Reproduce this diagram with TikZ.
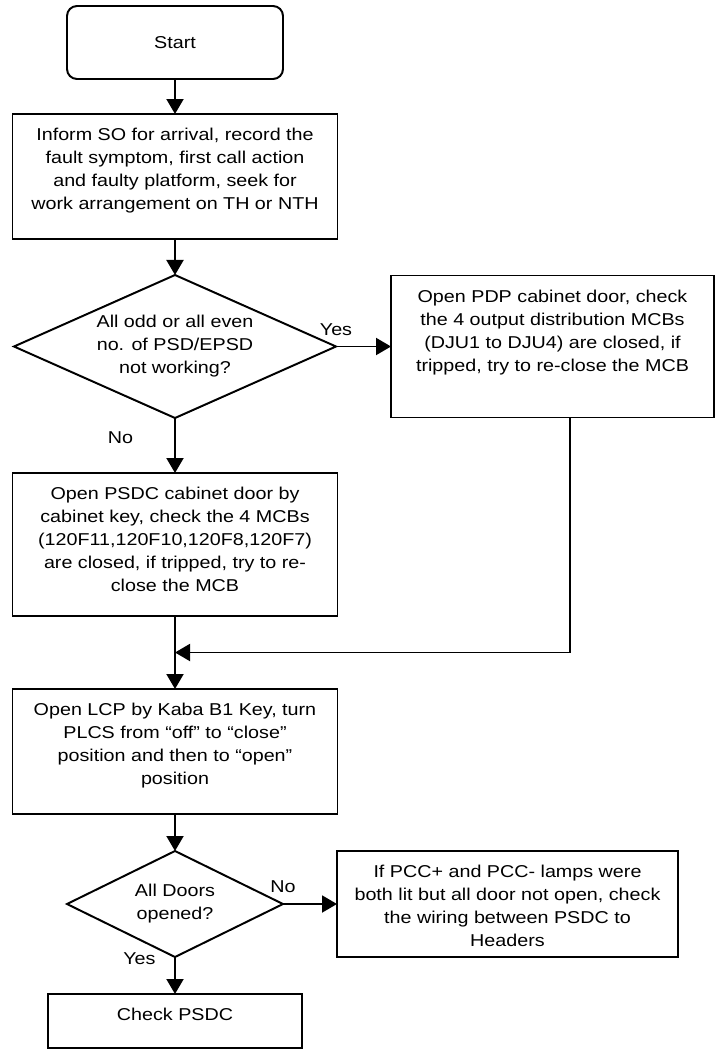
\documentclass[tikz,border=0pt]{standalone}
\usepackage{fontspec}
\setmainfont{Liberation Sans}[FakeStretch=1.15]
\usepackage{tikz}
\usetikzlibrary{positioning, arrows.meta, calc, shapes.geometric}
\newcommand{\toptext}[2]{\vbox to #1{\hbox{\begin{tabular}{@{}c@{}}#2\end{tabular}}\vfil}}
\tikzset{
  base/.style={draw, line width=1.4pt, outer sep=0pt, font=\fontsize{12.2}{16.4}\selectfont},
  term/.style={base, rounded corners=2.5mm, minimum width=5.4cm, minimum height=1.825cm},
  proc/.style={base, inner xsep=0pt, inner ysep=2.6mm},
  dec/.style={base, diamond, aspect=2.25, inner sep=0pt, align=center},
  lbl/.style={font=\fontsize{12.2}{16.4}\selectfont, inner sep=0pt},
  arr/.style={-{Triangle[length=3.75mm, width=4.25mm]}, line width=1.4pt},
}

\begin{document}
\begin{tikzpicture}
\useasboundingbox (0,0) rectangle (17.9,-26.325);
\node[term] (start) at (4.375,-1.0625) {Start};
\node[proc, minimum width=8.125cm, below=0.875cm of start] (inform) {\toptext{2.605cm}{Inform SO for arrival, record the\\fault symptom, first call action\\and faulty platform, seek for\\work arrangement on TH or NTH}};
\node[dec, minimum width=8.05cm, minimum height=3.575cm, below=0.9cm of inform] (ask1) {All odd or all even\\no. of PSD/EPSD\\not working?};
\node[proc, minimum width=8.075cm, right=1.375cm of ask1] (pdp) {\toptext{3.03cm}{Open PDP cabinet door, check\\the 4 output distribution MCBs\\(DJU1 to DJU4) are closed, if\\tripped, try to re-close the MCB}};
\node[proc, minimum width=8.125cm, below=1.375cm of ask1] (psdc) {\toptext{3.055cm}{Open PSDC cabinet door by\\cabinet key, check the 4 MCBs\\(120F11,120F10,120F8,120F7)\\are closed, if tripped, try to re-\\close the MCB}};
\node[proc, minimum width=8.125cm, below=1.825cm of psdc] (lcp) {\toptext{2.605cm}{Open LCP by Kaba B1 Key, turn\\PLCS from “off” to “close”\\position and then to “open”\\position}};
\node[dec, minimum width=5.4cm, minimum height=2.65cm, below=0.925cm of lcp] (ask2) {All Doors\\opened?};
\node[proc, minimum width=8.525cm, right=1.35cm of ask2] (hdr) {\toptext{2.13cm}{If PCC+ and PCC- lamps were\\both lit but all door not open, check\\the wiring between PSDC to\\Headers}};
\node[proc, minimum width=6.35cm, below=0.925cm of ask2] (chk) {\toptext{0.83cm}{Check PSDC}};
% branch labels
\node[lbl] (yes1) at ([yshift=4.25mm]ask1.east) {Yes};
\node[lbl] (no1) at ([xshift=-13.6mm, yshift=-5mm]ask1.south) {No};
\node[lbl] (no2) at ([yshift=4.25mm]ask2.east) {No};
\node[lbl] (yes2) at ([xshift=-8.9mm, yshift=-0.5mm]ask2.south) {Yes};
\coordinate (join) at ($(psdc.south)!0.5!(lcp.north)$);
\coordinate (drop) at ([xshift=4.4mm]pdp.south);
\draw[arr] (start) -- (inform);
\draw[arr] (inform) -- (ask1);
\draw[arr] (ask1) -- (pdp);
\draw[arr] (ask1) -- (psdc);
\draw[arr] (psdc) -- (lcp);
\draw[arr] (drop) |- (join);
\draw[arr] (lcp) -- (ask2);
\draw[arr] (ask2) -- (hdr);
\draw[arr] (ask2) -- (chk);
\end{tikzpicture}
\end{document}
